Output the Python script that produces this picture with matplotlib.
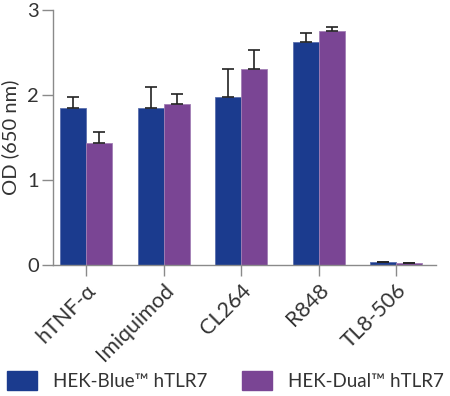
import numpy as np
import matplotlib
matplotlib.use("Agg")
import matplotlib.pyplot as plt
from matplotlib.patches import Patch

plt.rcParams['font.family'] = ['Lato', 'DejaVu Sans']

###Data###
categories = ['hTNF-α', 'Imiquimod', 'CL264', 'R848', 'TL8-506']
blue_vals = [1.85, 1.85, 1.97, 2.62, 0.03]
blue_err = [0.13, 0.24, 0.33, 0.11, 0.01]
purple_vals = [1.43, 1.89, 2.30, 2.75, 0.02]
purple_err = [0.13, 0.12, 0.23, 0.05, 0.005]
series_names = ['HEK-Blue™ hTLR7', 'HEK-Dual™ hTLR7']

blue = '#1b3b8e'
purple = '#7a4594'
grey = '#8a8a8a'
txt = '#333333'

fig = plt.figure(figsize=(4.5, 3.96), dpi=100)
ax = fig.add_axes([0.118, 0.331, 0.851, 0.644])

x = np.arange(len(categories))
w = 0.335
zeros = np.zeros(len(categories))
ax.bar(x - w/2, blue_vals, w, color=blue, edgecolor='#5a6fae', linewidth=0.6,
       yerr=[zeros, blue_err], capsize=4.5, error_kw=dict(ecolor='#222222', elinewidth=1.2, capthick=1.2))
ax.bar(x + w/2, purple_vals, w, color=purple, edgecolor='#a27fb5', linewidth=0.6,
       yerr=[zeros, purple_err], capsize=4.5, error_kw=dict(ecolor='#222222', elinewidth=1.2, capthick=1.2))

ax.set_xlim(-0.426, len(categories) - 1 + 0.516)
ax.set_ylim(0, 3)
ax.set_yticks([0, 1, 2, 3])
ax.set_xticks(x)
ax.set_xticklabels(categories, rotation=45, ha='right', rotation_mode='anchor', fontsize=15.5, color=txt)
ax.tick_params(axis='y', labelsize=14.5, colors=grey, labelcolor=txt, length=8, width=1, pad=2)
ax.tick_params(axis='x', colors=grey, labelcolor=txt, length=8, width=1, pad=3)
ax.set_ylabel('OD (650 nm)', fontsize=14.5, color=txt, labelpad=6)

for s in ['top', 'right']:
    ax.spines[s].set_visible(False)
for s in ['left', 'bottom']:
    ax.spines[s].set_color(grey)
    ax.spines[s].set_linewidth(1)

handles = [Patch(color=blue), Patch(color=purple)]
fig.legend(handles, series_names, loc='lower left', bbox_to_anchor=(7/450, 6/396), ncol=2,
           frameon=False, fontsize=13.5, handlelength=1.6, handleheight=1.17,
           borderpad=0, borderaxespad=0,
           columnspacing=1.87, handletextpad=0.85, labelcolor=txt)

plt.savefig('out.png', dpi=100)
